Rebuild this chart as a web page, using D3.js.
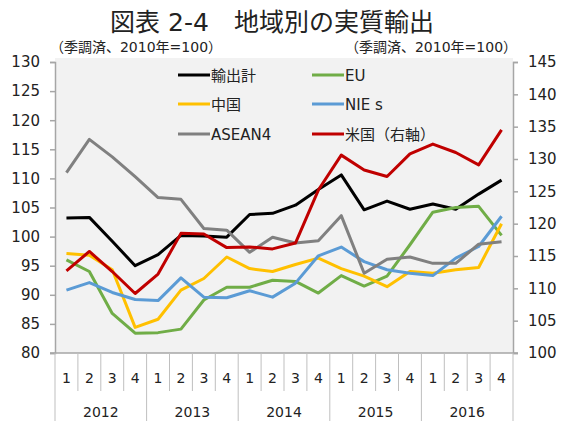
<!DOCTYPE html>
<html>
<head>
<meta charset="utf-8">
<title>地域別の実質輸出</title>
<style>
  body { margin: 0; background: #fff; }
  text { font-family: "DejaVu Sans", Verdana, sans-serif; fill: #222; }
  .jp { font-family: "DejaVu Sans", "Noto Sans CJK JP", sans-serif; }
</style>
</head>
<body>
<div id="chart"></div>
<script src="https://d3js.org/d3.v7.min.js"></script>
<script>

// categories
var years = ["2012", "2013", "2014", "2015", "2016"];
var quarters = ["1", "2", "3", "4"];

// series values (2010 = 100, seasonally adjusted)
var exportsTotal = [103.2, 103.3, 99.2, 95.0, 96.9, 100.2, 100.1, 99.9, 103.8, 104.0,
                    105.4, 108.1, 110.6, 104.6, 106.1, 104.7, 105.6, 104.7, 107.3, 109.7];
var eu = [96.0, 94.0, 86.8, 83.4, 83.5, 84.1, 89.1, 91.3, 91.3, 92.5,
          92.3, 90.3, 93.3, 91.5, 93.2, 98.6, 104.2, 105.0, 105.2, 100.2];
var china = [97.1, 96.8, 94.3, 84.4, 85.8, 90.8, 92.8, 96.5, 94.5, 94.0,
             95.2, 96.3, 94.5, 93.2, 91.4, 94.0, 93.7, 94.3, 94.7, 102.2];
var nies = [90.8, 92.1, 90.4, 89.2, 89.0, 92.9, 89.6, 89.5, 90.7, 89.6,
            92.0, 96.7, 98.2, 95.7, 94.3, 93.7, 93.3, 96.3, 98.3, 103.5];
var asean4 = [111.0, 116.7, 113.7, 110.3, 106.7, 106.4, 101.4, 101.1, 97.3, 99.9,
              98.9, 99.3, 103.6, 93.7, 96.1, 96.5, 95.4, 95.4, 98.7, 99.1];
var usa = [112.7, 115.7, 112.6, 109.2, 112.2, 118.5, 118.4, 116.3, 116.4, 116.1,
           117.0, 125.2, 130.6, 128.3, 127.3, 130.8, 132.3, 131.0, 129.1, 134.5]; // right axis

// tick labels
var leftTicks = [80, 85, 90, 95, 100, 105, 110, 115, 120, 125, 130];
var rightTicks = [100, 105, 110, 115, 120, 125, 130, 135, 140, 145];

var series = [
  {name: "輸出計", values: exportsTotal, color: "#000000", axis: "left"},
  {name: "EU", values: eu, color: "#70ad47", axis: "left"},
  {name: "中国", values: china, color: "#ffc000", axis: "left"},
  {name: "NIE s", values: nies, color: "#5b9bd5", axis: "left"},
  {name: "ASEAN4", values: asean4, color: "#808080", axis: "left"},
  {name: "米国（右軸）", values: usa, color: "#c00000", axis: "right"}
];

var W = 562, H = 421;
var plot = {left: 55, right: 513, top: 62, bottom: 353};

var svg = d3.select("#chart").append("svg")
    .attr("width", W)
    .attr("height", H);

// category keys
var cats = [];
years.forEach(function(y) {
  quarters.forEach(function(q) { cats.push(y + "-" + q); });
});

var x = d3.scaleBand().domain(cats).range([plot.left, plot.right]);
var yL = d3.scaleLinear().domain([80, 130]).range([plot.bottom, plot.top]);
var yR = d3.scaleLinear().domain([100, 145]).range([plot.bottom, plot.top]);

// plot background
svg.append("rect")
  .attr("x", plot.left)
  .attr("y", plot.top - 4)
  .attr("width", plot.right - plot.left)
  .attr("height", plot.bottom - plot.top + 4)
  .attr("fill", "#f2f2f2");

// title
svg.append("text")
  .attr("class", "jp")
  .attr("x", 272)
  .attr("y", 31)
  .attr("text-anchor", "middle")
  .style("font-size", "25px")
  .text("図表 2-4　地域別の実質輸出");

svg.append("text")
  .attr("class", "jp")
  .attr("x", 136)
  .attr("y", 52)
  .attr("text-anchor", "middle")
  .style("font-size", "14px")
  .text("（季調済、2010年=100）");

svg.append("text")
  .attr("class", "jp")
  .attr("x", 431)
  .attr("y", 52)
  .attr("text-anchor", "middle")
  .style("font-size", "14px")
  .text("（季調済、2010年=100）");

// left axis
var gL = svg.append("g")
  .attr("transform", "translate(" + plot.left + ",0)")
  .call(d3.axisLeft(yL).tickValues(leftTicks).tickSize(5).tickPadding(10));

// right axis
var gR = svg.append("g")
  .attr("transform", "translate(" + plot.right + ",0)")
  .call(d3.axisRight(yR).tickValues(rightTicks).tickSize(5).tickPadding(10));

[gL, gR].forEach(function(g) {
  g.select(".domain").attr("stroke", "#a6a6a6").attr("stroke-width", 1.5);
  g.selectAll(".tick line").attr("stroke", "#a6a6a6").attr("stroke-width", 1.5);
  g.selectAll(".tick text")
    .style("font-family", "'DejaVu Sans', Verdana, sans-serif")
    .style("font-size", "15px")
    .attr("fill", "#222");
});

// x axis line
svg.append("line")
  .attr("x1", plot.left - 5).attr("x2", plot.right + 5)
  .attr("y1", plot.bottom).attr("y2", plot.bottom)
  .attr("stroke", "#a6a6a6").attr("stroke-width", 1.5);

// quarter separators + labels
var step = x.step();
cats.forEach(function(c, i) {
  var x0 = x(c);
  var isYear = (i % 4 === 0);
  svg.append("line")
    .attr("x1", x0).attr("x2", x0)
    .attr("y1", plot.bottom).attr("y2", isYear ? H : 391)
    .attr("stroke", "#bfbfbf").attr("stroke-width", 1);
  svg.append("text")
    .attr("x", x0 + step / 2)
    .attr("y", 383)
    .attr("text-anchor", "middle")
    .style("font-size", "14px")
    .text(quarters[i % 4]);
});
svg.append("line")
  .attr("x1", plot.right).attr("x2", plot.right)
  .attr("y1", plot.bottom).attr("y2", H)
  .attr("stroke", "#bfbfbf").attr("stroke-width", 1);

years.forEach(function(yr) {
  var xs = x(yr + "-1");
  var xe = x(yr + "-4") + step;
  svg.append("text")
    .attr("x", (xs + xe) / 2)
    .attr("y", 417)
    .attr("text-anchor", "middle")
    .style("font-size", "14px")
    .text(yr);
});

// lines
series.forEach(function(s) {
  var yy = s.axis === "right" ? yR : yL;
  var line = d3.line()
    .x(function(d, i) { return x(cats[i]) + step / 2; })
    .y(function(d) { return yy(d); });
  svg.append("path")
    .datum(s.values)
    .attr("d", line)
    .attr("fill", "none")
    .attr("stroke", s.color)
    .attr("stroke-width", 3)
    .attr("stroke-linejoin", "round");
});

// legend (2 columns x 3 rows)
var legendCols = [178, 312];
var legendRows = [75, 104, 134];
series.forEach(function(s, i) {
  var lx = legendCols[i % 2];
  var ly = legendRows[Math.floor(i / 2)];
  svg.append("line")
    .attr("x1", lx).attr("x2", lx + 32)
    .attr("y1", ly).attr("y2", ly)
    .attr("stroke", s.color)
    .attr("stroke-width", 3);
  svg.append("text")
    .attr("x", lx + 33)
    .attr("y", ly + 5.5)
    .style("font-size", "15px")
    .style("font-family", "'DejaVu Sans', 'Noto Sans CJK JP', sans-serif")
    .text(s.name);
});

</script>
</body>
</html>
